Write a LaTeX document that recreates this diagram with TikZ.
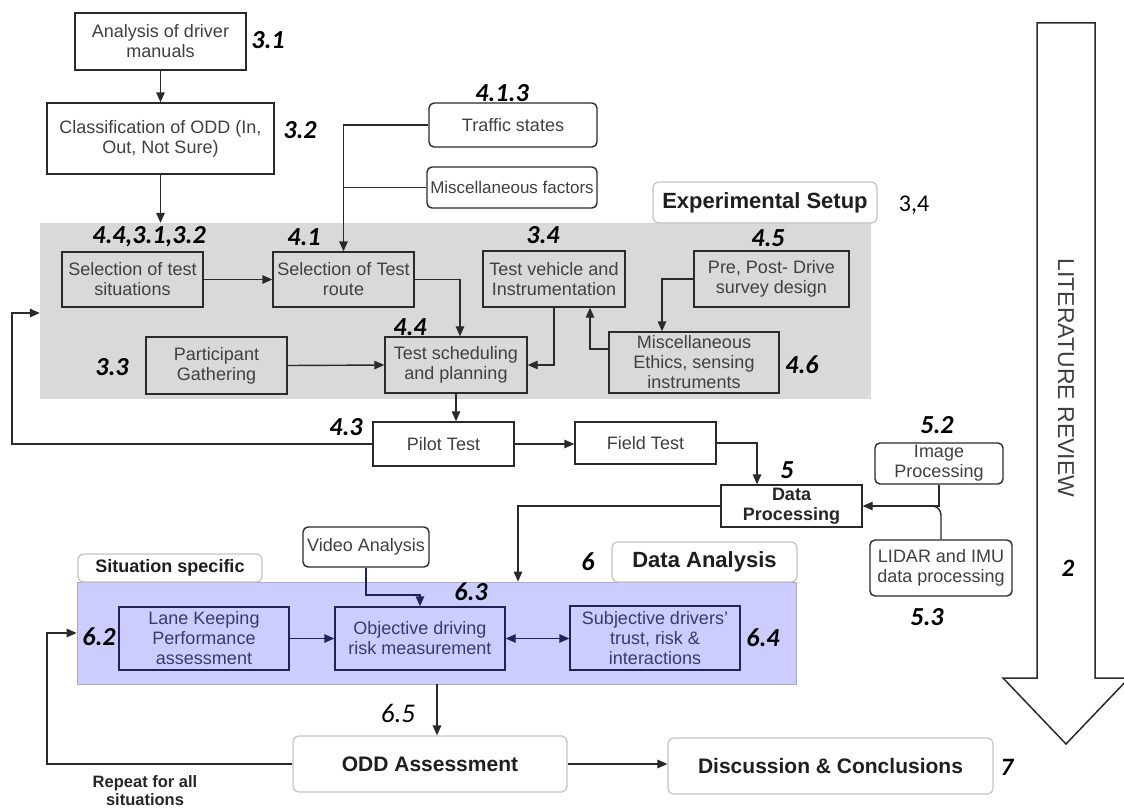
\documentclass[tikz,border=0pt]{standalone}
\usepackage{fontspec}
\setmainfont{Liberation Sans}
\newfontfamily\calfont{Carlito}
\usetikzlibrary{arrows.meta}
\definecolor{grayfill}{HTML}{D9D9D9}
\definecolor{bluefill}{HTML}{CCCCFF}
\definecolor{blueedge}{HTML}{A8A8C8}
\definecolor{navy}{HTML}{22225A}
\definecolor{txt}{HTML}{404040}
\definecolor{bluetxt}{HTML}{3A3A66}
\definecolor{lightb}{HTML}{C4C4C4}
\definecolor{edge}{HTML}{2A2A2A}
\begin{document}
\begin{tikzpicture}[x=1pt,y=-1pt,
  >={Triangle[length=10pt,width=8.5pt]},
  conn/.style={line width=1.4pt, draw=edge},
  bconn/.style={line width=1.4pt, draw=navy},
  sbox/.style={draw=edge, line width=1.4pt, align=center, inner sep=0pt, text=txt,
     font=\fontsize{18}{20}\selectfont},
  wbox/.style={sbox, fill=white},
  rbox/.style={sbox, fill=white, rounded corners=5pt},
  bbox/.style={sbox, draw=navy, text=bluetxt},
  hbox/.style={draw=lightb, line width=1.2pt, fill=white, rounded corners=6pt, inner sep=0pt,
     align=center, text=black!88, font=\bfseries\fontsize{22}{24}\selectfont},
  lab/.style={inner sep=0pt, font=\calfont\bfseries\itshape\fontsize{26}{26}\selectfont},
  region/.style={inner sep=0pt}
]
\useasboundingbox (0,0) rectangle (1124,808);

% background regions
\node[region, fill=grayfill, minimum width=831pt, minimum height=176pt] (gray) at (455.5,311) {};
\node[region, fill=bluefill, draw=blueedge, line width=0.8pt, minimum width=719pt, minimum height=102pt] (blue) at (436.5,633) {};

% top boxes
\node[wbox, minimum width=171pt, minimum height=57pt] (anal) at (160.5,41.5) {Analysis of driver\\manuals};
\node[wbox, minimum width=227pt, minimum height=71pt] (class) at (160.5,138.5) {Classification of ODD (In,\\Out, Not Sure)};
\node[rbox, minimum width=168pt, minimum height=44pt] (traffic) at (513,125) {Traffic states};
\node[rbox, minimum width=170pt, minimum height=41pt, font=\fontsize{17}{18}\selectfont] (miscf) at (512,187.5) {Miscellaneous factors};
\node[hbox, minimum width=224pt, minimum height=41pt] (expsetup) at (765,202.5) {Experimental Setup};

% gray region boxes
\node[sbox, minimum width=141pt, minimum height=55pt] (sit) at (132.5,279.5) {Selection of test\\situations};
\node[sbox, minimum width=141pt, minimum height=55pt] (route) at (343.5,279.5) {Selection of Test\\route};
\node[sbox, minimum width=142pt, minimum height=56pt] (vehicle) at (554,279) {Test vehicle and\\Instrumentation};
\node[sbox, minimum width=155pt, minimum height=56pt] (prepost) at (771.5,279) {Pre, Post- Drive\\survey design};
\node[sbox, minimum width=141pt, minimum height=57pt] (partic) at (216.5,365.5) {Participant\\Gathering};
\node[sbox, minimum width=142pt, minimum height=56pt] (sched) at (456,365) {Test scheduling\\and planning};
\node[sbox, minimum width=170pt, minimum height=61pt] (misce) at (694,362.5) {Miscellaneous\\Ethics, sensing\\instruments};

% middle
\node[wbox, minimum width=141pt, minimum height=44pt] (pilot) at (443.5,444) {Pilot Test};
\node[wbox, minimum width=141pt, minimum height=42pt] (field) at (645.5,443) {Field Test};
\node[wbox, minimum width=141pt, minimum height=42pt, text=black!85, font=\bfseries\fontsize{18}{20}\selectfont] (dp) at (791.5,506) {Data\\Processing};
\node[rbox, minimum width=128pt, minimum height=41pt] (img) at (939,463.5) {Image\\Processing};
\node[rbox, minimum width=142pt, minimum height=56pt] (lidar) at (941,568) {LIDAR and IMU\\data processing};
\node[rbox, minimum width=126pt, minimum height=40pt] (video) at (366,547) {Video Analysis};
\node[hbox, minimum width=184pt, minimum height=28pt, font=\bfseries\fontsize{18}{20}\selectfont] (sitspec) at (170,568) {Situation specific};
\node[hbox, minimum width=185pt, minimum height=40pt] (dataan) at (704.5,562) {Data Analysis};

% blue region boxes
\node[bbox, minimum width=170pt, minimum height=63pt] (lane) at (204,638.5) {Lane Keeping\\Performance\\assessment};
\node[bbox, minimum width=170pt, minimum height=63pt] (obj) at (420,638.5) {Objective driving\\risk measurement};
\node[bbox, minimum width=170pt, minimum height=64pt] (subj) at (655,638) {Subjective drivers'\\trust, risk \&\\interactions};

% bottom
\node[hbox, minimum width=274pt, minimum height=56pt, font=\bfseries\fontsize{21}{23}\selectfont] (odd) at (430,764) {ODD Assessment};
\node[hbox, minimum width=325pt, minimum height=56pt, font=\bfseries\fontsize{21}{23}\selectfont] (disc) at (830.5,766) {Discussion \& Conclusions};
\node[inner sep=0pt, align=center, text=black!85, font=\bfseries\fontsize{16.5}{18}\selectfont] (repeat) at (145,791) {Repeat for all\\situations};

% literature review arrow
\draw[line width=1.5pt, draw=edge, fill=white] (1037,23) -- (1095,23) -- (1095,678) -- (1129,678) -- (1066,744) -- (1003,678) -- (1037,678) -- cycle;
\node[rotate=-90, inner sep=0pt, text=txt, font=\fontsize{23}{25}\selectfont] (litrev) at (1066,378) {LITERATURE REVIEW};

% labels
\node[lab] (l31) at (268,40) {3.1};
\node[lab] (l32) at (300,130) {3.2};
\node[lab] (l413) at (502,93) {4.1.3};
\node[lab, font=\calfont\fontsize{24}{24}\selectfont] (l34b) at (914,205) {3,4};
\node[lab] (l4431) at (149,237) {4.4,3.1,3.2};
\node[lab] (l41) at (304,237) {4.1};
\node[lab] (l34) at (543,235) {3.4};
\node[lab] (l45) at (768,238) {4.5};
\node[lab] (l44) at (410,327) {4.4};
\node[lab] (l33) at (112,367) {3.3};
\node[lab] (l46) at (802,365) {4.6};
\node[lab] (l43) at (346,427) {4.3};
\node[lab] (l5) at (787,470) {5};
\node[lab] (l52) at (937,425) {5.2};
\node[lab] (l53) at (927,617) {5.3};
\node[lab] (l6) at (588,562) {6};
\node[lab] (l63) at (471,592) {6.3};
\node[lab] (l62) at (99,637) {6.2};
\node[lab] (l64) at (763,638) {6.4};
\node[lab, font=\calfont\itshape\fontsize{27}{27}\selectfont] (l65) at (398,713) {6.5};
\node[lab, font=\calfont\bfseries\itshape\fontsize{25}{25}\selectfont] (l7) at (1007,767) {7};
\node[lab, font=\calfont\bfseries\itshape\fontsize{25}{25}\selectfont] (l2) at (1068,568) {2};

% connectors
\draw[conn,->] (anal.south) -- (class.north);
\draw[conn,->] (class.south) -- (class.south |- gray.north);
\draw[conn,->] (traffic.west) -| (route.north);
\draw[conn] (miscf.west) -- (route.north |- miscf.west);
\draw[conn,->] (sit.east) -- (route.west);
\draw[conn,->] (route.east) -| ([xshift=4pt]sched.north);
\draw[conn,->] (partic.east) -- (sched.west);
\draw[conn,->] (vehicle.south) |- (sched.east);
\draw[conn,->] (prepost.west) -| ([xshift=-32pt]misce.north);
\draw[conn,->] ([yshift=13.5pt]misce.west) -| ([xshift=36pt]vehicle.south);
\draw[conn,->] (sched.south) -- (sched.south |- pilot.north);
\coordinate (fb) at (12,313);
\draw[conn,->] (pilot.west) -| (fb) -- (fb -| gray.west);
\draw[conn,->] (pilot.east) -- (pilot.east -| field.west);
\draw[conn,->] (field.east) -| ([xshift=-34.5pt]dp.north);
\draw[conn,->] (img.south) |- (dp.east);
\draw[conn, rounded corners=9pt] (lidar.north) |- ([xshift=-14pt]lidar.north |- dp.east);
\draw[conn,->] (dp.west) -| ([xshift=81.5pt]blue.north);
\coordinate (vj) at (420,595);
\draw[bconn,->] (video.south) |- (vj) -- (obj.north);
\draw[bconn,->] (lane.east) -- (lane.east -| obj.west);
\draw[bconn,<->] (obj.east) -- (obj.east -| subj.west);
\draw[conn,->] (blue.south -| 437,0) -- (437,0 |- odd.north);
\draw[conn,->] (odd.east) -- (odd.east -| disc.west);
\coordinate (rb) at (47,633);
\draw[conn,->] (odd.west) -| (rb) -- (rb -| blue.west);
\end{tikzpicture}
\end{document}
